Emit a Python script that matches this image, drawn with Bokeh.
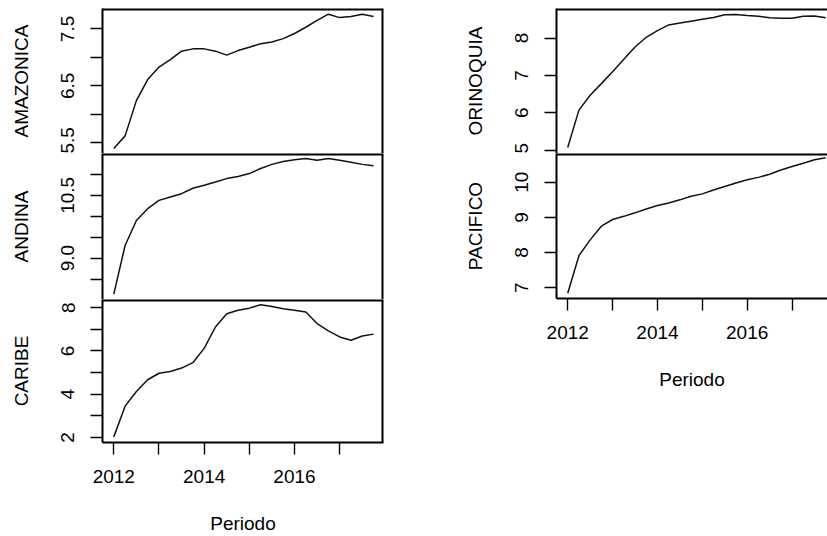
from bokeh.plotting import figure
from bokeh.layouts import row, column
from bokeh.models import FixedTicker, Span, Range1d, PrintfTickFormatter
from bokeh.embed import file_html
from bokeh.resources import INLINE

# ---- data (quarterly) ----
periodo = [2012.00, 2012.25, 2012.50, 2012.75, 2013.00, 2013.25, 2013.50, 2013.75,
           2014.00, 2014.25, 2014.50, 2014.75, 2015.00, 2015.25, 2015.50, 2015.75,
           2016.00, 2016.25, 2016.50, 2016.75, 2017.00, 2017.25, 2017.50, 2017.75]

amazonica = [5.40, 5.62, 6.24, 6.61, 6.83, 6.96, 7.11, 7.15, 7.15, 7.11, 7.04, 7.12,
             7.18, 7.24, 7.27, 7.33, 7.42, 7.53, 7.65, 7.76, 7.70, 7.72, 7.76, 7.72]
andina = [8.14, 9.30, 9.90, 10.18, 10.38, 10.46, 10.54, 10.67, 10.74, 10.82, 10.90, 10.95,
          11.02, 11.14, 11.24, 11.31, 11.35, 11.38, 11.34, 11.38, 11.34, 11.29, 11.24, 11.21]
caribe = [2.03, 3.45, 4.13, 4.67, 4.97, 5.05, 5.21, 5.46, 6.12, 7.11, 7.72, 7.88,
          7.98, 8.14, 8.06, 7.95, 7.88, 7.80, 7.27, 6.93, 6.65, 6.50, 6.69, 6.78]
orinoquia = [5.07, 6.07, 6.47, 6.78, 7.10, 7.43, 7.76, 8.02, 8.20, 8.35, 8.40, 8.45,
             8.50, 8.55, 8.62, 8.63, 8.60, 8.58, 8.54, 8.53, 8.53, 8.58, 8.59, 8.54]
pacifico = [6.84, 7.91, 8.36, 8.75, 8.94, 9.03, 9.13, 9.24, 9.34, 9.41, 9.50, 9.60,
            9.67, 9.78, 9.88, 9.98, 10.07, 10.14, 10.23, 10.35, 10.45, 10.54, 10.64, 10.70]

x_major = [2012, 2014, 2016]
x_minor = [2013, 2015, 2017]

FONT = "Liberation Sans"
FS = "19px"
BORDER_W = 4  # spans sit on the frame edge, half of the width is visible


def panel(name, values, width, height, xr, yr, y_major, y_minor, fmt,
          x_axis, mb_left, mb_right, mb_top, mb_bottom, right_border):
    p = figure(width=width, height=height, output_backend="svg", toolbar_location=None,
               x_range=Range1d(*xr), y_range=Range1d(*yr),
               x_axis_location="below" if x_axis else None,
               min_border_left=mb_left, min_border_right=mb_right,
               min_border_top=mb_top, min_border_bottom=mb_bottom,
               background_fill_color="white", border_fill_color="white")
    p.xgrid.visible = False
    p.ygrid.visible = False
    p.outline_line_color = None
    p.line(periodo, values, line_color="#111111", line_width=1.5)

    # box: top edge and (optionally) right edge; left/bottom come from axes or next panel
    p.add_layout(Span(location=yr[1], dimension="width", line_color="black", line_width=BORDER_W))
    if right_border:
        p.add_layout(Span(location=xr[1], dimension="height", line_color="black", line_width=BORDER_W))

    ya = p.yaxis[0]
    ya.ticker = FixedTicker(ticks=y_major, minor_ticks=y_minor)
    ya.formatter = PrintfTickFormatter(format=fmt)
    ya.axis_label = name
    ya.axis_label_text_font = FONT
    ya.axis_label_text_font_size = FS
    ya.axis_label_text_font_style = "normal"
    ya.axis_label_text_color = "black"
    ya.axis_label_standoff = 27
    ya.major_label_orientation = "vertical"
    ya.major_label_text_font = FONT
    ya.major_label_text_font_size = FS
    ya.major_label_text_color = "black"
    ya.major_label_standoff = 16
    ya.axis_line_color = "black"
    ya.axis_line_width = 2
    ya.major_tick_out = 12
    ya.major_tick_in = 0
    ya.minor_tick_out = 12
    ya.minor_tick_in = 0
    ya.major_tick_line_color = "black"
    ya.minor_tick_line_color = "black"
    ya.major_tick_line_width = 1.4
    ya.minor_tick_line_width = 1.4

    if x_axis:
        xa = p.xaxis[0]
        xa.ticker = FixedTicker(ticks=x_major, minor_ticks=x_minor)
        xa.axis_label = "Periodo"
        xa.axis_label_text_font = FONT
        xa.axis_label_text_font_size = FS
        xa.axis_label_text_font_style = "normal"
        xa.axis_label_text_color = "black"
        xa.axis_label_standoff = 27
        xa.major_label_text_font = FONT
        xa.major_label_text_font_size = FS
        xa.major_label_text_color = "black"
        xa.major_label_standoff = 15
        xa.axis_line_color = "black"
        xa.axis_line_width = 2
        xa.major_tick_out = 12
        xa.major_tick_in = 0
        xa.minor_tick_out = 12
        xa.minor_tick_in = 0
        xa.major_tick_line_color = "black"
        xa.minor_tick_line_color = "black"
        xa.major_tick_line_width = 1.4
        xa.minor_tick_line_width = 1.4
    return p


LX = (2011.75, 2017.97)
RX = (2011.75, 2017.79)

a = panel("AMAZONICA", amazonica, 395, 153, LX, (5.31, 7.86), [5.5, 6.5, 7.5], [6.0, 7.0], "%.1f",
          False, 102, 12, 8, 0, True)
b = panel("ANDINA", andina, 395, 146, LX, (8.01, 11.50), [8.0, 9.0, 10.5], [8.5, 9.5, 10.0, 11.0], "%.1f",
          False, 102, 12, 0, 0, True)
c = panel("CARIBE", caribe, 395, 237, LX, (1.77, 8.38), [2, 4, 6, 8], [3, 5, 7], "%d",
          True, 102, 12, 0, 93, True)

d = panel("ORINOQUIA", orinoquia, 432, 153, RX, (4.91, 8.79), [5, 6, 7, 8], [], "%d",
          False, 161, 0, 8, 0, False)
e = panel("PACIFICO", pacifico, 432, 239, RX, (6.69, 10.82), [7, 8, 9, 10], [], "%d",
          True, 161, 0, 0, 93, False)

layout = row(column(a, b, c, spacing=0), column(d, e, spacing=0), spacing=0)

open("out.html", "w").write(file_html(layout, INLINE))
